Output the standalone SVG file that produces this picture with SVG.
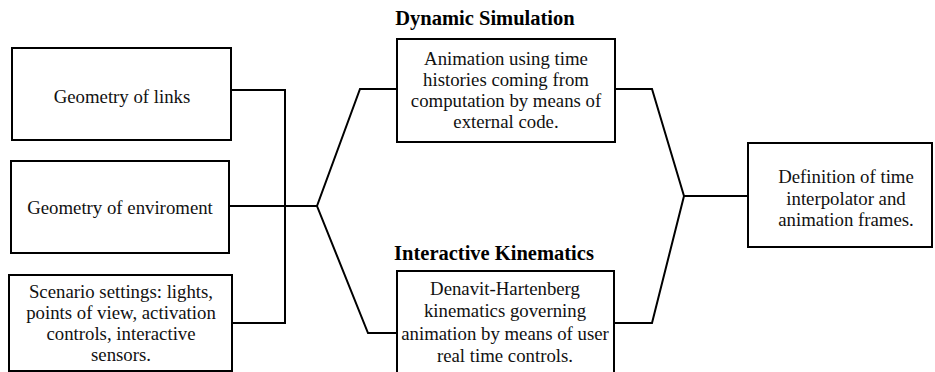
<svg xmlns="http://www.w3.org/2000/svg" width="935" height="372" viewBox="0 0 935 372">
<style>
.box{fill:#fff;stroke:#000;stroke-width:2}
.t{font-family:"Liberation Serif","Times New Roman",serif;font-size:18.8px;fill:#111;text-anchor:middle}
.h{font-family:"Liberation Serif","Times New Roman",serif;font-size:20.5px;font-weight:bold;fill:#000;text-anchor:middle}
.c{fill:none;stroke:#000;stroke-width:2;stroke-linejoin:miter}
</style>
<rect width="935" height="372" fill="#fff"/>
<g id="connectors">
<polyline class="c" points="231,90 285,90 285,323 232,323"/>
<line class="c" x1="229" y1="206" x2="317" y2="206"/>
<polyline class="c" points="397,89 360,89 317,206 368,333 397,333"/>
<polyline class="c" points="615,89 652,89 684,196 652,323 614,323"/>
<line class="c" x1="684" y1="196" x2="748" y2="196"/>
</g>
<g id="links">
<rect class="box" x="12" y="48" width="219" height="92"/>
<text class="t" x="122" y="103">Geometry of links</text>
</g>
<g id="environment">
<rect class="box" x="11" y="161" width="218" height="92"/>
<text class="t" x="120" y="214">Geometry of enviroment</text>
</g>
<g id="scenario">
<rect class="box" x="9" y="275" width="223" height="96"/>
<text class="t" x="121" y="298">Scenario settings: lights,</text>
<text class="t" x="121" y="319">points of view, activation</text>
<text class="t" x="121" y="340">controls, interactive</text>
<text class="t" x="121" y="361">sensors.</text>
</g>
<g id="dynamic">
<text class="h" x="485" y="25">Dynamic Simulation</text>
<rect class="box" x="397" y="39" width="218" height="103"/>
<text class="t" x="506" y="65">Animation using time</text>
<text class="t" x="506" y="86">histories coming from</text>
<text class="t" x="506" y="107">computation by means of</text>
<text class="t" x="506" y="128">external code.</text>
</g>
<g id="interactive">
<text class="h" x="494" y="260">Interactive Kinematics</text>
<rect class="box" x="397" y="271" width="217" height="104"/>
<text class="t" x="505" y="295">Denavit-Hartenberg</text>
<text class="t" x="505" y="317">kinematics governing</text>
<text class="t" x="505" y="340">animation by means of user</text>
<text class="t" x="505" y="362">real time controls.</text>
</g>
<g id="definition">
<rect class="box" x="748" y="143" width="184" height="104"/>
<text class="t" x="846" y="183">Definition of time</text>
<text class="t" x="846" y="205">interpolator and</text>
<text class="t" x="846" y="226">animation frames.</text>
</g>
</svg>
